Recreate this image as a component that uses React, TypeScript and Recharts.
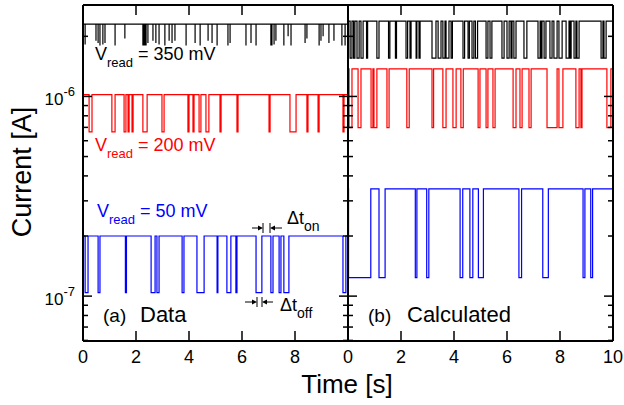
import React from 'react';
import { LineChart, Line, XAxis, YAxis } from 'recharts';

const FONT = 'Liberation Sans, Arial, sans-serif';

const xTicks = [0, 2, 4, 6, 8, 10];
const yTicks = [6e-8, 7e-8, 8e-8, 9e-8, 1e-7, 2e-7, 3e-7, 4e-7, 5e-7, 6e-7, 7e-7, 8e-7, 9e-7, 1e-6, 2e-6];
const yMajor: Record<string, string> = { '1e-7': '-7', '0.000001': '-6' };
const yDomain = [5.96e-8, 2.87e-6];

// (a) measured, 350 mV: short spikes (time, bottom current)
const blackDataHigh = 2.3e-6;
const blackDataSpikeTimes = [
  0.08, 0.49, 0.57, 0.64, 0.75, 0.83, 1.21, 1.58, 2.26, 2.3, 2.34, 2.38, 2.45, 2.64, 2.75, 2.87,
  3.09, 3.25, 3.36, 3.47, 3.89, 4.23, 4.42, 4.72, 4.87, 5.06, 5.47, 5.55, 6.15, 6.34, 6.53,
  7.09, 7.13, 7.21, 7.28, 7.58, 7.74, 7.85, 8.38, 8.45, 8.91, 8.98, 9.06, 9.28, 9.47, 9.77, 9.89,
];
const blackDataSpikeLows = [
  1.82e-6, 1.9e-6, 1.85e-6, 1.8e-6, 1.82e-6, 1.85e-6, 1.8e-6, 1.95e-6,
  1.8e-6, 1.8e-6, 1.8e-6, 1.8e-6, 1.85e-6, 1.9e-6, 1.85e-6, 1.82e-6,
  1.8e-6, 1.9e-6, 1.85e-6, 1.9e-6, 1.8e-6, 1.85e-6, 1.8e-6, 1.9e-6, 1.85e-6,
  1.8e-6, 1.8e-6, 1.85e-6, 1.8e-6, 1.85e-6, 1.8e-6,
  1.8e-6, 1.8e-6, 1.82e-6, 1.9e-6, 1.8e-6, 2.0e-6, 1.8e-6,
  1.85e-6, 1.95e-6, 1.8e-6, 1.9e-6, 2.0e-6, 1.85e-6, 1.9e-6, 1.8e-6, 1.8e-6,
];

// (a) measured, 200 mV: [start, end] of low state
const redDataHigh = 1.02e-6;
const redDataLow = 6.65e-7;
const redDataLows = [
  [0.23, 0.34], [1.09, 1.21], [1.55, 1.62], [1.7, 1.74], [1.85, 1.89], [2.26, 2.42], [2.98, 3.06],
  [3.96, 4.0], [4.15, 4.19], [4.38, 4.45], [4.64, 4.75], [5.17, 5.21], [5.81, 5.85], [7.02, 7.06],
  [7.81, 8.04], [8.45, 8.49], [8.87, 8.91], [9.81, 9.85],
];

// (a) measured, 50 mV
const blueDataHigh = 2.0e-7;
const blueDataLow = 1.04e-7;
const blueDataLows = [
  [0.08, 0.19], [0.57, 0.64], [1.6, 1.64], [2.57, 2.72], [2.79, 2.87], [3.74, 3.81], [4.3, 4.57],
  [5.06, 5.09], [5.43, 5.58], [5.77, 5.81], [6.53, 6.75], [7.09, 7.17], [7.4, 7.47], [7.58, 7.77],
  [9.81, 9.92],
];

// (b) calculated
const blackCalcHigh = 2.385e-6;
const blackCalcLow = 1.557e-6;
const blackCalcLows = [
  [0.08, 0.15], [0.21, 0.26], [0.34, 0.42], [0.49, 0.57], [0.7, 0.74], [1.09, 1.17], [1.53, 1.58],
  [1.79, 1.83], [2.19, 2.25], [2.34, 2.38], [2.57, 2.6], [2.68, 2.72], [3.17, 3.32], [3.4, 3.51],
  [3.58, 3.66], [3.7, 3.81], [3.89, 3.94], [4.34, 4.4], [4.53, 4.58], [4.68, 4.75], [4.81, 4.89],
  [5.21, 5.28], [5.36, 5.43], [5.81, 5.89], [6.0, 6.08], [6.15, 6.19], [6.26, 6.34], [6.64, 6.75],
  [7.17, 7.25], [7.28, 7.32], [7.4, 7.47], [7.62, 7.7], [7.77, 7.89], [7.96, 8.08], [8.23, 8.34],
  [8.38, 8.42], [8.53, 8.6], [8.64, 8.72], [9.55, 9.62], [9.66, 9.74],
];

const redCalcHigh = 1.373e-6;
const redCalcLow = 6.98e-7;
const redCalcLows = [
  [0.04, 0.15], [0.38, 0.49], [0.87, 0.94], [0.98, 1.09], [1.47, 1.55], [2.22, 2.31], [3.17, 3.23],
  [3.58, 3.7], [3.96, 4.08], [4.26, 4.35], [4.91, 4.98], [5.21, 5.28], [5.47, 5.55], [6.23, 6.34],
  [6.49, 6.57], [6.83, 6.91], [7.51, 7.89], [7.96, 8.11], [8.6, 8.72], [8.79, 8.83], [9.77, 9.92],
];

const blueCalcHigh = 3.447e-7;
const blueCalcLow = 1.237e-7;
const blueCalcLows = [
  [0.02, 0.86], [1.17, 1.4], [2.54, 2.6], [2.97, 3.05], [4.23, 4.33], [4.6, 4.71], [4.92, 5.11],
  [6.45, 6.55], [7.35, 7.56], [8.87, 8.94], [9.16, 9.23],
];

type Pt = { t: number; v: number };

function telegraph(high: number, low: number, lows: number[][]): Pt[] {
  const pts: Pt[] = [{ t: 0, v: high }];
  lows.forEach(([s, e]) => {
    pts.push({ t: s, v: high }, { t: s, v: low }, { t: e, v: low }, { t: e, v: high });
  });
  pts.push({ t: 10, v: high });
  return pts;
}

// one thin vertical stroke per spike
function spikes(high: number, times: number[], lows: number[]): Pt[] {
  const pts: Pt[] = [{ t: 0, v: high }];
  times.forEach((s, i) => {
    pts.push({ t: s, v: high }, { t: s, v: lows[i] }, { t: s, v: high });
  });
  pts.push({ t: 10, v: high });
  return pts;
}

const blackData = spikes(blackDataHigh, blackDataSpikeTimes, blackDataSpikeLows);
const redData = telegraph(redDataHigh, redDataLow, redDataLows);
const blueData = telegraph(blueDataHigh, blueDataLow, blueDataLows);
const blackCalc = telegraph(blackCalcHigh, blackCalcLow, blackCalcLows);
const redCalc = telegraph(redCalcHigh, redCalcLow, redCalcLows);
const blueCalc = telegraph(blueCalcHigh, blueCalcLow, blueCalcLows);

const frame = { stroke: '#000', strokeWidth: 2 };

const majorOf = (v: number) => yMajor[String(v)];

const yTick = (dir: number, withLabel: boolean) => (p: any) => {
  const { x, y, payload } = p;
  const sup = majorOf(payload.value);
  const len = sup ? 9 : 5;
  return (
    <g>
      <line x1={x} x2={x + dir * len} y1={y} y2={y} stroke="#000" strokeWidth={1.5} />
      {withLabel && sup && (
        <text x={x - 8} y={y + 9} textAnchor="end" fontFamily={FONT} fontSize={17} fill="#000">
          10<tspan fontSize={13} dy={-9}>{sup}</tspan>
        </text>
      )}
    </g>
  );
};

const bottomTick = (skipLast: boolean) => (p: any) => {
  const { x, y, payload } = p;
  const v = payload.value;
  return (
    <g>
      {v > 0 && v < 10 && <line x1={x} x2={x} y1={y} y2={y - 10} stroke="#000" strokeWidth={1.5} />}
      {!(skipLast && v === 10) && (
        <text x={x} y={y + 22} textAnchor="middle" fontFamily={FONT} fontSize={18} fill="#000">
          {v}
        </text>
      )}
    </g>
  );
};

const topTick = (p: any) => {
  const { x, y, payload } = p;
  const v = payload.value;
  if (v <= 0 || v >= 10) return <g />;
  return <line x1={x} x2={x} y1={y} y2={y + 10} stroke="#000" strokeWidth={1.5} />;
};

function Panel({ width, left, margin, yLabel, series }: any) {
  return (
    <div style={{ position: 'absolute', left, top: 0 }}>
      <LineChart width={width} height={405} margin={margin}>
        <XAxis xAxisId="b" type="number" dataKey="t" domain={[0, 10]} allowDataOverflow ticks={xTicks}
          interval={0} height={64} tickSize={0} tickMargin={0} axisLine={frame}
          tick={bottomTick(yLabel)} />
        <XAxis xAxisId="t" orientation="top" type="number" dataKey="t" domain={[0, 10]} allowDataOverflow
          ticks={xTicks} interval={0} height={1} tickSize={0} tickMargin={0} axisLine={frame} tick={topTick} />
        <YAxis yAxisId="l" type="number" scale="log" domain={yDomain} allowDataOverflow ticks={yTicks}
          interval={0} width={yLabel ? 83 : 1} tickSize={0} tickMargin={0} axisLine={frame}
          tick={yTick(1, yLabel)} />
        <YAxis yAxisId="r" orientation="right" type="number" scale="log" domain={yDomain} allowDataOverflow
          ticks={yTicks} interval={0} width={1} tickSize={0} tickMargin={0} axisLine={frame}
          tick={yTick(-1, false)} />
        {series.map((s: any) => (
          <Line key={s.name} name={s.name} xAxisId="b" yAxisId="l" data={s.data} dataKey="v" type="linear"
            stroke={s.color} strokeWidth={1.2} dot={false} activeDot={false} isAnimationActive={false} />
        ))}
      </LineChart>
    </div>
  );
}

const Arrow = ({ x1, x2, y }: { x1: number; x2: number; y: number }) => {
  const d = x2 > x1 ? 1 : -1;
  return (
    <g>
      <line x1={x1} x2={x2 - d * 4} y1={y} y2={y} stroke="#000" strokeWidth={1} />
      <polygon points={`${x2},${y} ${x2 - d * 5},${y - 2.5} ${x2 - d * 5},${y + 2.5}`} fill="#000" />
    </g>
  );
};

function Vread({ x, y, value, color }: any) {
  return (
    <text x={x} y={y} fontFamily={FONT} fontSize={18} fill={color}>
      V<tspan fontSize={13} dy={7}>read</tspan>
      <tspan dy={-7}>{` = ${value}`}</tspan>
    </text>
  );
}

export default function App() {
  return (
    <div style={{ position: 'fixed', left: 0, top: 0, width: 624, height: 405, background: '#fff' }}>
      <Panel width={349} left={0} margin={{ top: 4, right: 0, bottom: 0, left: 0 }} yLabel
        series={[
          { name: '350 mV data', data: blackData, color: '#000000' },
          { name: '200 mV data', data: redData, color: '#ff0000' },
          { name: '50 mV data', data: blueData, color: '#0000ff' },
        ]} />
      <Panel width={324} left={300} margin={{ top: 4, right: 10, bottom: 0, left: 47 }} yLabel={false}
        series={[
          { name: '350 mV calc', data: blackCalc, color: '#000000' },
          { name: '200 mV calc', data: redCalc, color: '#ff0000' },
          { name: '50 mV calc', data: blueCalc, color: '#0000ff' },
        ]} />
      <svg width={624} height={405} style={{ position: 'absolute', left: 0, top: 0, pointerEvents: 'none' }}>
        <text x={347} y={393} textAnchor="middle" fontFamily={FONT} fontSize={26} fill="#000">Time [s]</text>
        <text transform="translate(31,172) rotate(-90)" textAnchor="middle" fontFamily={FONT} fontSize={27} fill="#000">
          Current [A]
        </text>
        <Vread x={95} y={60} value="350 mV" color="#000000" />
        <Vread x={95} y={151} value="200 mV" color="#ff0000" />
        <Vread x={97} y={217} value="50 mV" color="#0000ff" />
        <text x={103} y={322} fontFamily={FONT} fontSize={19} fill="#000">(a)</text>
        <text x={140} y={322} fontFamily={FONT} fontSize={22} fill="#000">Data</text>
        <text x={368} y={322} fontFamily={FONT} fontSize={19} fill="#000">(b)</text>
        <text x={407} y={322} fontFamily={FONT} fontSize={22} fill="#000">Calculated</text>
        {/* Δt_on marker */}
        <line x1={263} x2={263} y1={223} y2={233} stroke="#000" strokeWidth={1} />
        <line x1={270} x2={270} y1={223} y2={233} stroke="#000" strokeWidth={1} />
        <Arrow x1={252} x2={263} y={228} />
        <Arrow x1={282} x2={270} y={228} />
        <text x={287} y={224} fontFamily={FONT} fontSize={18} fill="#000">
          Δt<tspan fontSize={14} dy={7}>on</tspan>
        </text>
        {/* Δt_off marker */}
        <line x1={257} x2={257} y1={297} y2={307} stroke="#000" strokeWidth={1} />
        <line x1={262} x2={262} y1={297} y2={307} stroke="#000" strokeWidth={1} />
        <Arrow x1={245} x2={257} y={302} />
        <Arrow x1={273} x2={262} y={302} />
        <text x={280} y={311} fontFamily={FONT} fontSize={18} fill="#000">
          Δt<tspan fontSize={14} dy={7}>off</tspan>
        </text>
      </svg>
    </div>
  );
}
